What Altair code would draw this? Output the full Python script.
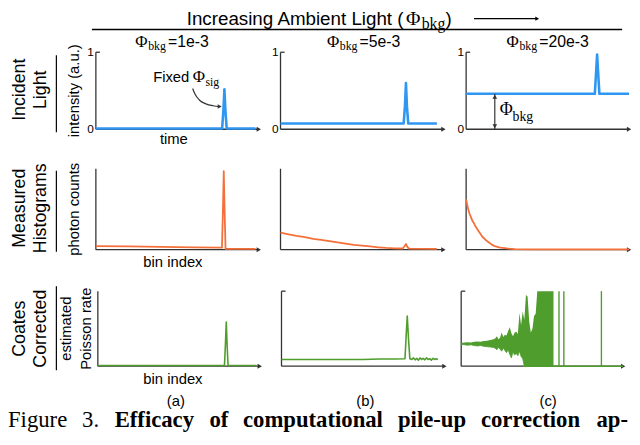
import altair as alt
import pandas as pd

# ---------------- data ----------------
# x = position along the time / bin-index axis (0..100, 100 = arrow tip), y = normalised value
inc_a_x = [0, 77.5, 78.3, 78.9, 79.5, 80.3, 98]
inc_a_y = [0.01, 0.01, 0.25, 0.52, 0.25, 0.01, 0.01]
inc_b_x = [0, 75.6, 76.4, 77.0, 77.6, 78.4, 96]
inc_b_y = [0.075, 0.075, 0.30, 0.60, 0.30, 0.075, 0.075]
inc_c_x = [0, 79.0, 79.8, 80.4, 81.0, 81.8, 100]
inc_c_y = [0.46, 0.46, 0.75, 0.97, 0.75, 0.46, 0.46]

hist_a_x = [0, 20, 40, 60, 77.4, 78.0, 78.5, 79.0, 79.6, 98]
hist_a_y = [0.045, 0.04, 0.035, 0.03, 0.025, 0.5, 0.97, 0.5, 0.01, 0.01]
hist_b_x = [0, 5, 10, 15, 20, 25, 30, 35, 40, 45, 50, 55, 60, 65, 70, 75, 76, 77, 78, 79, 96]
hist_b_y = [0.21, 0.19, 0.17, 0.155, 0.135, 0.12, 0.105, 0.09, 0.075, 0.06, 0.05, 0.04,
            0.03, 0.022, 0.017, 0.015, 0.04, 0.07, 0.03, 0.012, 0.01]
hist_c_x = [0, 1, 2, 3, 4, 5, 6, 8, 10, 12, 14, 16, 18, 21, 25, 30, 40, 100]
hist_c_y = [0.62, 0.52, 0.45, 0.40, 0.35, 0.32, 0.28, 0.22, 0.16, 0.12, 0.09, 0.06,
            0.04, 0.025, 0.015, 0.008, 0.005, 0.005]

coat_a_x = [0, 78.2, 78.8, 79.3, 79.8, 80.4, 98]
coat_a_y = [0.01, 0.01, 0.30, 0.59, 0.30, 0.01, 0.01]
coat_b_x = [0, 10, 20, 30, 40, 50, 60, 70, 75.8, 76.5, 77.2, 78.0, 78.8, 80, 81, 82, 83, 84, 85,
            86, 87, 88, 89, 90, 91, 92, 93, 94, 95, 96]
coat_b_y = [0.09, 0.09, 0.09, 0.09, 0.09, 0.09, 0.095, 0.095, 0.10, 0.40, 0.67, 0.35, 0.10,
            0.09, 0.11, 0.085, 0.105, 0.08, 0.11, 0.09, 0.105, 0.085, 0.11, 0.09, 0.1, 0.08,
            0.105, 0.09, 0.1, 0.09]
# noisy Coates estimate at high ambient light: envelope of the fast oscillation
coat_c_env_x = [0, 2, 4, 6, 8, 10, 12, 14, 16, 18, 20, 21, 22, 23, 24, 25, 26, 27, 28, 29,
                30, 31, 32, 33, 34, 35, 36, 37, 38, 39, 40, 41, 42, 43, 44, 45, 46, 47, 48, 57]
coat_c_lo = [0.29, 0.285, 0.28, 0.285, 0.275, 0.27, 0.275, 0.265, 0.26, 0.255, 0.25, 0.24, 0.22,
             0.25, 0.23, 0.20, 0.24, 0.21, 0.18, 0.22, 0.16, 0.11, 0.19, 0.15, 0.17, 0.14, 0.20,
             0.13, 0.10, 0.0, 0.0, 0.0, 0.0, 0.0, 0.0, 0.0, 0.0, 0.0, 0.0, 0.0]
coat_c_hi = [0.31, 0.315, 0.32, 0.315, 0.325, 0.33, 0.325, 0.335, 0.34, 0.35, 0.36, 0.37, 0.40,
             0.36, 0.38, 0.45, 0.39, 0.42, 0.41, 0.47, 0.52, 0.44, 0.40, 0.45, 0.46, 0.43, 0.71,
             0.55, 0.73, 0.62, 0.95, 0.93, 0.60, 0.45, 0.50, 0.67, 0.70, 1.50, 1.50, 1.50]
coat_c_zero_x = [38, 100]
coat_c_zero_y = [0.0, 0.0]
coat_c_spikes = [60.4, 63.4, 86.6]

# annotation curve "Fixed Phi_sig" (in panel (a), row 1 data units)
sig_arrow_x = [59.4, 61.0, 63.5, 67.5, 72.0, 76.0]
sig_arrow_y = [0.53, 0.45, 0.38, 0.33, 0.305, 0.295]
bkg_arrow_x = [17.6]

subtitle_vals = ["=1e-3", "=5e-3", "=20e-3"]
panel_tags = ["(a)", "(b)", "(c)"]
row_labels = [("Incident", "Light"), ("Measured", "Histograms"), ("Coates", "Corrected")]
caption_words = ["Figure", "3.", "Efficacy", "of", "computational", "pile-up", "correction", "ap-"]

# ---------------- layout / style ----------------
OFF = 8
SANS = "Liberation Sans"
SERIF = "Liberation Serif"
AX = "#333333"
BLUE, ORANGE, GREEN = "#2f96f2", "#f4703a", "#4f9d2c"
COLS = {"a": (97, 262), "b": (284, 449), "c": (472, 637)}
COLS_ROW3 = {"a": (99, 263), "b": (285, 450), "c": (467, 631)}
ROWS = {1: (128, 50), 2: (250, 168), 3: (368, 292)}
DUMMY = pd.DataFrame({"d": [0]})

layers = []


def scales(col, row):
    x0, x1 = (COLS_ROW3 if row == 3 else COLS)[col]
    yb, yt = ROWS[row]
    sx = alt.Scale(domain=[0, 100], range=[x0 - OFF, x1 - OFF], clamp=True, nice=False, zero=False)
    sy = alt.Scale(domain=[0, 1], range=[yb - OFF, yt - OFF], clamp=True, nice=False, zero=False)
    return sx, sy


def XY(col, row):
    sx, sy = scales(col, row)
    X = lambda f: alt.X(f, type="quantitative", scale=sx, axis=None)
    Y = lambda f: alt.Y(f, type="quantitative", scale=sy, axis=None)
    return X, Y


def panel(col, row, xs, ys, color, width, top_tick=False, tick_labels=False):
    X, Y = XY(col, row)
    ax = pd.DataFrame({"x0": [0], "x1": [100], "y0": [0], "y1": [1], "tk": [2.5]})
    out = [
        alt.Chart(ax).mark_rule(color=AX, strokeWidth=1.3).encode(x=X("x0"), x2="x1", y=Y("y0")),
        alt.Chart(ax).mark_rule(color=AX, strokeWidth=1.3).encode(x=X("x0"), y=Y("y0"), y2="y1"),
        alt.Chart(ax).mark_point(shape="triangle-right", filled=True, size=26, color=AX, opacity=1)
        .encode(x=X("x1"), y=Y("y0")),
    ]
    if top_tick:
        out.append(alt.Chart(ax).mark_rule(color=AX, strokeWidth=1.3).encode(x=X("x0"), x2="tk", y=Y("y1")))
    if tick_labels:
        tl = pd.DataFrame({"x": [0, 0], "y": [0, 1], "t": ["0", "1"]})
        out.append(alt.Chart(tl).mark_text(align="right", baseline="middle", dx=-2, font=SANS,
                                           fontSize=12, color="black")
                   .encode(x=X("x"), y=Y("y"), text="t:N"))
    if xs is not None:
        df = pd.DataFrame({"x": xs, "y": ys})
        out.append(alt.Chart(df).mark_line(color=color, strokeWidth=width, strokeJoin="round")
                   .encode(x=X("x"), y=Y("y")))
    return out


def txt(s, x, y, size, font=SANS, angle=0, align="left", baseline="alphabetic", weight="normal"):
    return alt.Chart(DUMMY).mark_text(text=s, font=font, fontSize=size, angle=angle, align=align,
                                      baseline=baseline, fontWeight=weight, color="black") \
        .encode(x=alt.value(x - OFF), y=alt.value(y - OFF))


# panels
layers += panel("a", 1, inc_a_x, inc_a_y, BLUE, 2.6, top_tick=True, tick_labels=True)
layers += panel("b", 1, inc_b_x, inc_b_y, BLUE, 2.6, top_tick=True, tick_labels=True)
layers += panel("c", 1, inc_c_x, inc_c_y, BLUE, 2.6, top_tick=True, tick_labels=True)
layers += panel("a", 2, hist_a_x, hist_a_y, ORANGE, 1.8)
layers += panel("b", 2, hist_b_x, hist_b_y, ORANGE, 1.8)
layers += panel("c", 2, hist_c_x, hist_c_y, ORANGE, 1.8)
layers += panel("a", 3, coat_a_x, coat_a_y, GREEN, 1.6)
layers += panel("b", 3, coat_b_x, coat_b_y, GREEN, 1.6, top_tick=True)
layers += panel("c", 3, None, None, GREEN, 1.4, top_tick=True)

# noisy panel (c), row 3
X, Y = XY("c", 3)
env = pd.DataFrame({"x": coat_c_env_x, "lo": coat_c_lo, "hi": coat_c_hi})
layers.append(alt.Chart(env).mark_area(color=GREEN, opacity=1, line={"color": GREEN, "strokeWidth": 0.8})
              .encode(x=X("x"), y=Y("lo"), y2="hi"))
zl = pd.DataFrame({"x": coat_c_zero_x, "y": coat_c_zero_y})
layers.append(alt.Chart(zl).mark_line(color=GREEN, strokeWidth=1.6).encode(x=X("x"), y=Y("y")))
sp = pd.DataFrame({"x": coat_c_spikes, "y0": [0.0] * len(coat_c_spikes), "y1": [1.5] * len(coat_c_spikes)})
layers.append(alt.Chart(sp).mark_rule(color=GREEN, strokeWidth=1.4).encode(x=X("x"), y=Y("y0"), y2="y1"))

# Phi_bkg double arrow in panel (c), row 1
X, Y = XY("c", 1)
bk = pd.DataFrame({"x": bkg_arrow_x, "y0": [0.0], "y1": [inc_c_y[0]]})
layers.append(alt.Chart(bk).mark_rule(color=AX, strokeWidth=1.2).encode(x=X("x"), y=Y("y0"), y2="y1"))
layers.append(alt.Chart(bk).mark_point(shape="triangle-up", filled=True, size=22, color=AX, opacity=1, yOffset=3)
              .encode(x=X("x"), y=Y("y1")))
layers.append(alt.Chart(bk).mark_point(shape="triangle-down", filled=True, size=22, color=AX, opacity=1, yOffset=-3)
              .encode(x=X("x"), y=Y("y0")))

# Fixed Phi_sig curved arrow in panel (a), row 1
X, Y = XY("a", 1)
sa = pd.DataFrame({"x": sig_arrow_x, "y": sig_arrow_y})
layers.append(alt.Chart(sa).mark_line(color=AX, strokeWidth=1.2, interpolate="monotone")
              .encode(x=X("x"), y=Y("y")))
layers.append(alt.Chart(sa.tail(1)).mark_point(shape="triangle-right", filled=True, size=22, color=AX, opacity=1)
              .encode(x=X("x"), y=Y("y")))

# ---------------- texts ----------------
# header
layers.append(txt("Increasing Ambient Light (", 189, 22, 19))
layers.append(txt("\u03a6", 411, 22, 20, SERIF))
layers.append(txt("bkg", 427, 26, 16, SERIF))
layers.append(txt(")", 451, 22, 19))
layers.append(alt.Chart(DUMMY).mark_rule(color="black", strokeWidth=1.2).encode(
    x=alt.value(480 - OFF), x2=alt.value(543 - OFF), y=alt.value(16 - OFF)))
layers.append(alt.Chart(DUMMY).mark_point(shape="triangle-right", filled=True, size=20, color="black", opacity=1)
              .encode(x=alt.value(544 - OFF), y=alt.value(16 - OFF)))
layers.append(alt.Chart(DUMMY).mark_rule(color="black", strokeWidth=1.6).encode(
    x=alt.value(93 - OFF), x2=alt.value(630 - OFF), y=alt.value(27 - OFF)))

# column subtitles
for x0, v in zip([137, 331, 513], subtitle_vals):
    layers.append(txt("\u03a6", x0, 45, 17, SERIF))
    layers.append(txt("bkg", x0 + 13, 48, 12, SERIF))
    layers.append(txt(v, x0 + 33, 45, 16))

# annotations
layers.append(txt("Fixed", 155, 80, 15))
layers.append(txt("\u03a6", 195, 80, 17, SERIF))
layers.append(txt("sig", 208, 84, 12, SERIF))
layers.append(txt("\u03a6", 506, 114, 18, SERIF))
layers.append(txt("bkg", 519, 120, 14, SERIF))

# axis titles
layers.append(txt("time", 176, 138, 15, align="center", baseline="middle"))
layers.append(txt("bin index", 175, 263, 15, align="center", baseline="middle"))
layers.append(txt("bin index", 175, 381, 15, align="center", baseline="middle"))
layers.append(txt("intensity (a.u.)", 75, 89, 15, angle=270, align="center", baseline="middle"))
layers.append(txt("photon counts", 75, 209, 15, angle=270, align="center", baseline="middle"))
layers.append(txt("estimated", 67, 330, 15, angle=270, align="center", baseline="middle"))
layers.append(txt("Poisson rate", 87, 330, 15, angle=270, align="center", baseline="middle"))

# row labels with separators (rotated, baseline on the right side of the glyphs)
for (l1, l2), cy, (s0, s1) in zip(row_labels, [88, 208, 330], [(53, 131), (170, 252), (287, 372)]):
    layers.append(txt(l1, 25, cy, 18, angle=270, align="center", baseline="alphabetic"))
    layers.append(txt(l2, 46, cy, 18, angle=270, align="center", baseline="alphabetic"))
    layers.append(alt.Chart(DUMMY).mark_rule(color="black", strokeWidth=1.2).encode(
        x=alt.value(57 - OFF), y=alt.value(s0 - OFF), y2=alt.value(s1 - OFF)))

# panel tags
for tag, cx in zip(panel_tags, [178, 370, 555]):
    layers.append(txt(tag, cx, 403, 15, align="center", baseline="middle"))

# caption (justified word by word)
for w, x in zip(caption_words, [8, 83, 116, 212, 246, 403, 487, 604]):
    layers.append(txt(w, x, 430, 23, SERIF, weight="normal" if w in ("Figure", "3.") else "bold"))

chart = alt.layer(*layers, data=DUMMY).resolve_scale(x="independent", y="independent").properties(
    width=632, height=437, padding=0, autosize="none"
).configure_view(stroke=None)

chart.save("out.html", embed_options={"renderer": "svg", "actions": False})
